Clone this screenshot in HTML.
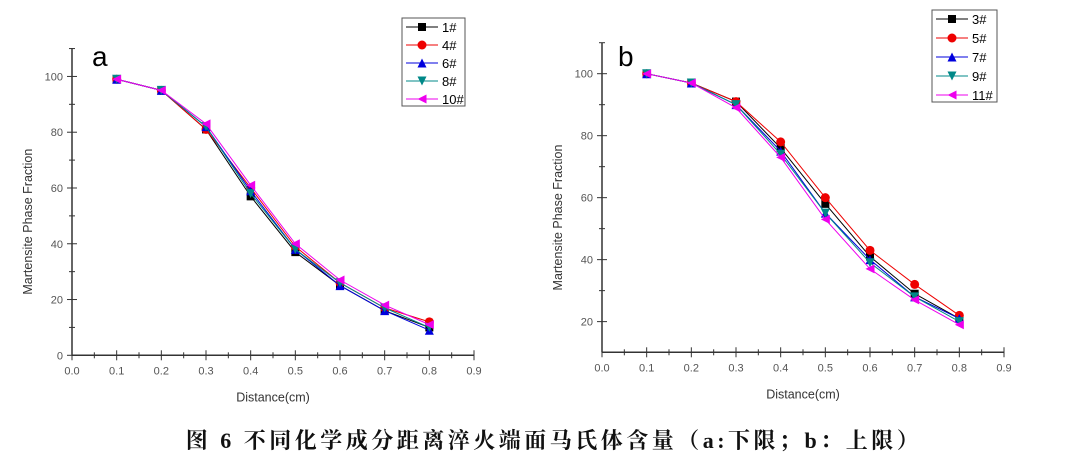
<!DOCTYPE html>
<html><head><meta charset="utf-8"><style>
html,body{margin:0;padding:0;background:#fff;width:1080px;height:455px;overflow:hidden}
svg text{font-family:"Liberation Sans",Arial,sans-serif}
.cap{position:absolute;left:14px;top:424px;width:1080px;text-align:center;font:bold 22px "Liberation Serif","Noto Serif CJK SC",serif;color:#111;letter-spacing:3.5px;white-space:nowrap}
</style></head><body>
<svg id="s" width="1080" height="455" xmlns="http://www.w3.org/2000/svg"></svg>
<div class="cap">图 6 不同化学成分距离淬火端面马氏体含量（a:下限；b：上限）</div>
<script>
const s=document.getElementById('s');let h='';
const cols=['#000','#e00','#00d','#088','#e0e'];
function mk(t,x,y,c){const r=4.5;
 if(t==0)return `<rect x="${x-r+0.5}" y="${y-r+0.5}" width="${2*r-1}" height="${2*r-1}" fill="${c}"/>`;
 if(t==1)return `<circle cx="${x}" cy="${y}" r="${r}" fill="${c}"/>`;
 if(t==2)return `<polygon points="${x},${y-r} ${x+r},${y+r} ${x-r},${y+r}" fill="${c}"/>`;
 if(t==3)return `<polygon points="${x},${y+r} ${x+r},${y-r} ${x-r},${y-r}" fill="${c}"/>`;
 return `<polygon points="${x-r},${y} ${x+r},${y-r} ${x+r},${y+r}" fill="${c}"/>`;}
function chart(o){
 const X=v=>o.x0+v/0.9*(o.x9-o.x0), Y=v=>o.yb-(v-o.ymin)/(o.ymax-o.ymin)*(o.yb-o.yt);
 h+=`<line x1="${o.x0}" y1="${o.yt}" x2="${o.x0}" y2="${o.yb}" stroke="#333" stroke-width="1.5"/>`;
 h+=`<line x1="${o.x0}" y1="${o.yb}" x2="${o.x9}" y2="${o.yb}" stroke="#333" stroke-width="1.5"/>`;
 for(let i=0;i<=18;i++){const x=o.x0+i*(o.x9-o.x0)/18;const L=i%2?3:5;
  h+=`<line x1="${x}" y1="${o.yb-L}" x2="${x}" y2="${o.yb+L}" stroke="#333"/>`;
  if(i%2==0)h+=`<text x="${x}" y="${o.yb+19}" font-size="11" fill="#555" text-anchor="middle">${(i/20).toFixed(1)}</text>`;}
 for(let v=Math.ceil(o.ymin/10)*10;v<=o.ymax;v+=10){const y=Y(v);const maj=v%20==0;
  h+=`<line x1="${o.x0-(maj?5:3)}" y1="${y}" x2="${o.x0+(maj?5:3)}" y2="${y}" stroke="#333"/>`;
  if(maj)h+=`<text x="${o.x0-9}" y="${y+4}" font-size="11" fill="#555" text-anchor="end">${v}</text>`;}
 h+=`<text x="${(o.x0+o.x9)/2}" y="${o.yb+46}" font-size="12.5" fill="#333" text-anchor="middle">Distance(cm)</text>`;
 h+=`<text transform="translate(${o.x0-40},${(o.yt+o.yb)/2+20}) rotate(-90)" font-size="12.5" fill="#333" text-anchor="middle">Martensite Phase Fraction</text>`;
 h+=`<text x="${o.lx}" y="${o.ly}" font-size="28" fill="#000">${o.lab}</text>`;
 o.d.forEach((d,k)=>{const p=d.map((v,i)=>X(0.1*(i+1))+','+Y(v)).join(' ');
  h+=`<polyline points="${p}" fill="none" stroke="${cols[k]}" stroke-width="1"/>`;
  d.forEach((v,i)=>h+=mk(k,X(0.1*(i+1)),Y(v),cols[k]));});
 const b=o.leg;h+=`<rect x="${b[0]}" y="${b[1]}" width="${b[2]}" height="${b[3]}" fill="#fff" stroke="#555"/>`;
 o.names.forEach((n,k)=>{const y=b[1]+9+k*(b[3]-16)/4;
  h+=`<line x1="${b[0]+4}" y1="${y}" x2="${b[0]+36}" y2="${y}" stroke="${cols[k]}"/>`+mk(k,b[0]+20,y,cols[k]);
  h+=`<text x="${b[0]+40}" y="${y+5}" font-size="13" fill="#000">${n}</text>`;});
}
chart({x0:72,x9:474,yb:355.3,yt:48,ymin:0,ymax:110.2,lab:'a',lx:92,ly:66,leg:[402,18,63,88],names:['1#','4#','6#','8#','10#'],
 d:[[99,95,81,57,37,25,16,10],[99,95,81,60,39,26,17,12],[99,95,82,59,38,25,16,9],[99,95,82,58,38,26,17,10],[99,95,83,61,40,27,18,11]]});
chart({x0:602,x9:1004,yb:352.3,yt:42.7,ymin:10.1,ymax:110,lab:'b',lx:618,ly:66,leg:[932,10,65,92],names:['3#','5#','7#','9#','11#'],
 d:[[100,97,91,76,58,41,29,21],[100,97,91,78,60,43,32,22],[100,97,90,75,55,40,28,21],[100,97,90,74,55,39,28,20],[100,97,89,73,53,37,27,19]]});
s.innerHTML=h;
</script>
</body></html>
